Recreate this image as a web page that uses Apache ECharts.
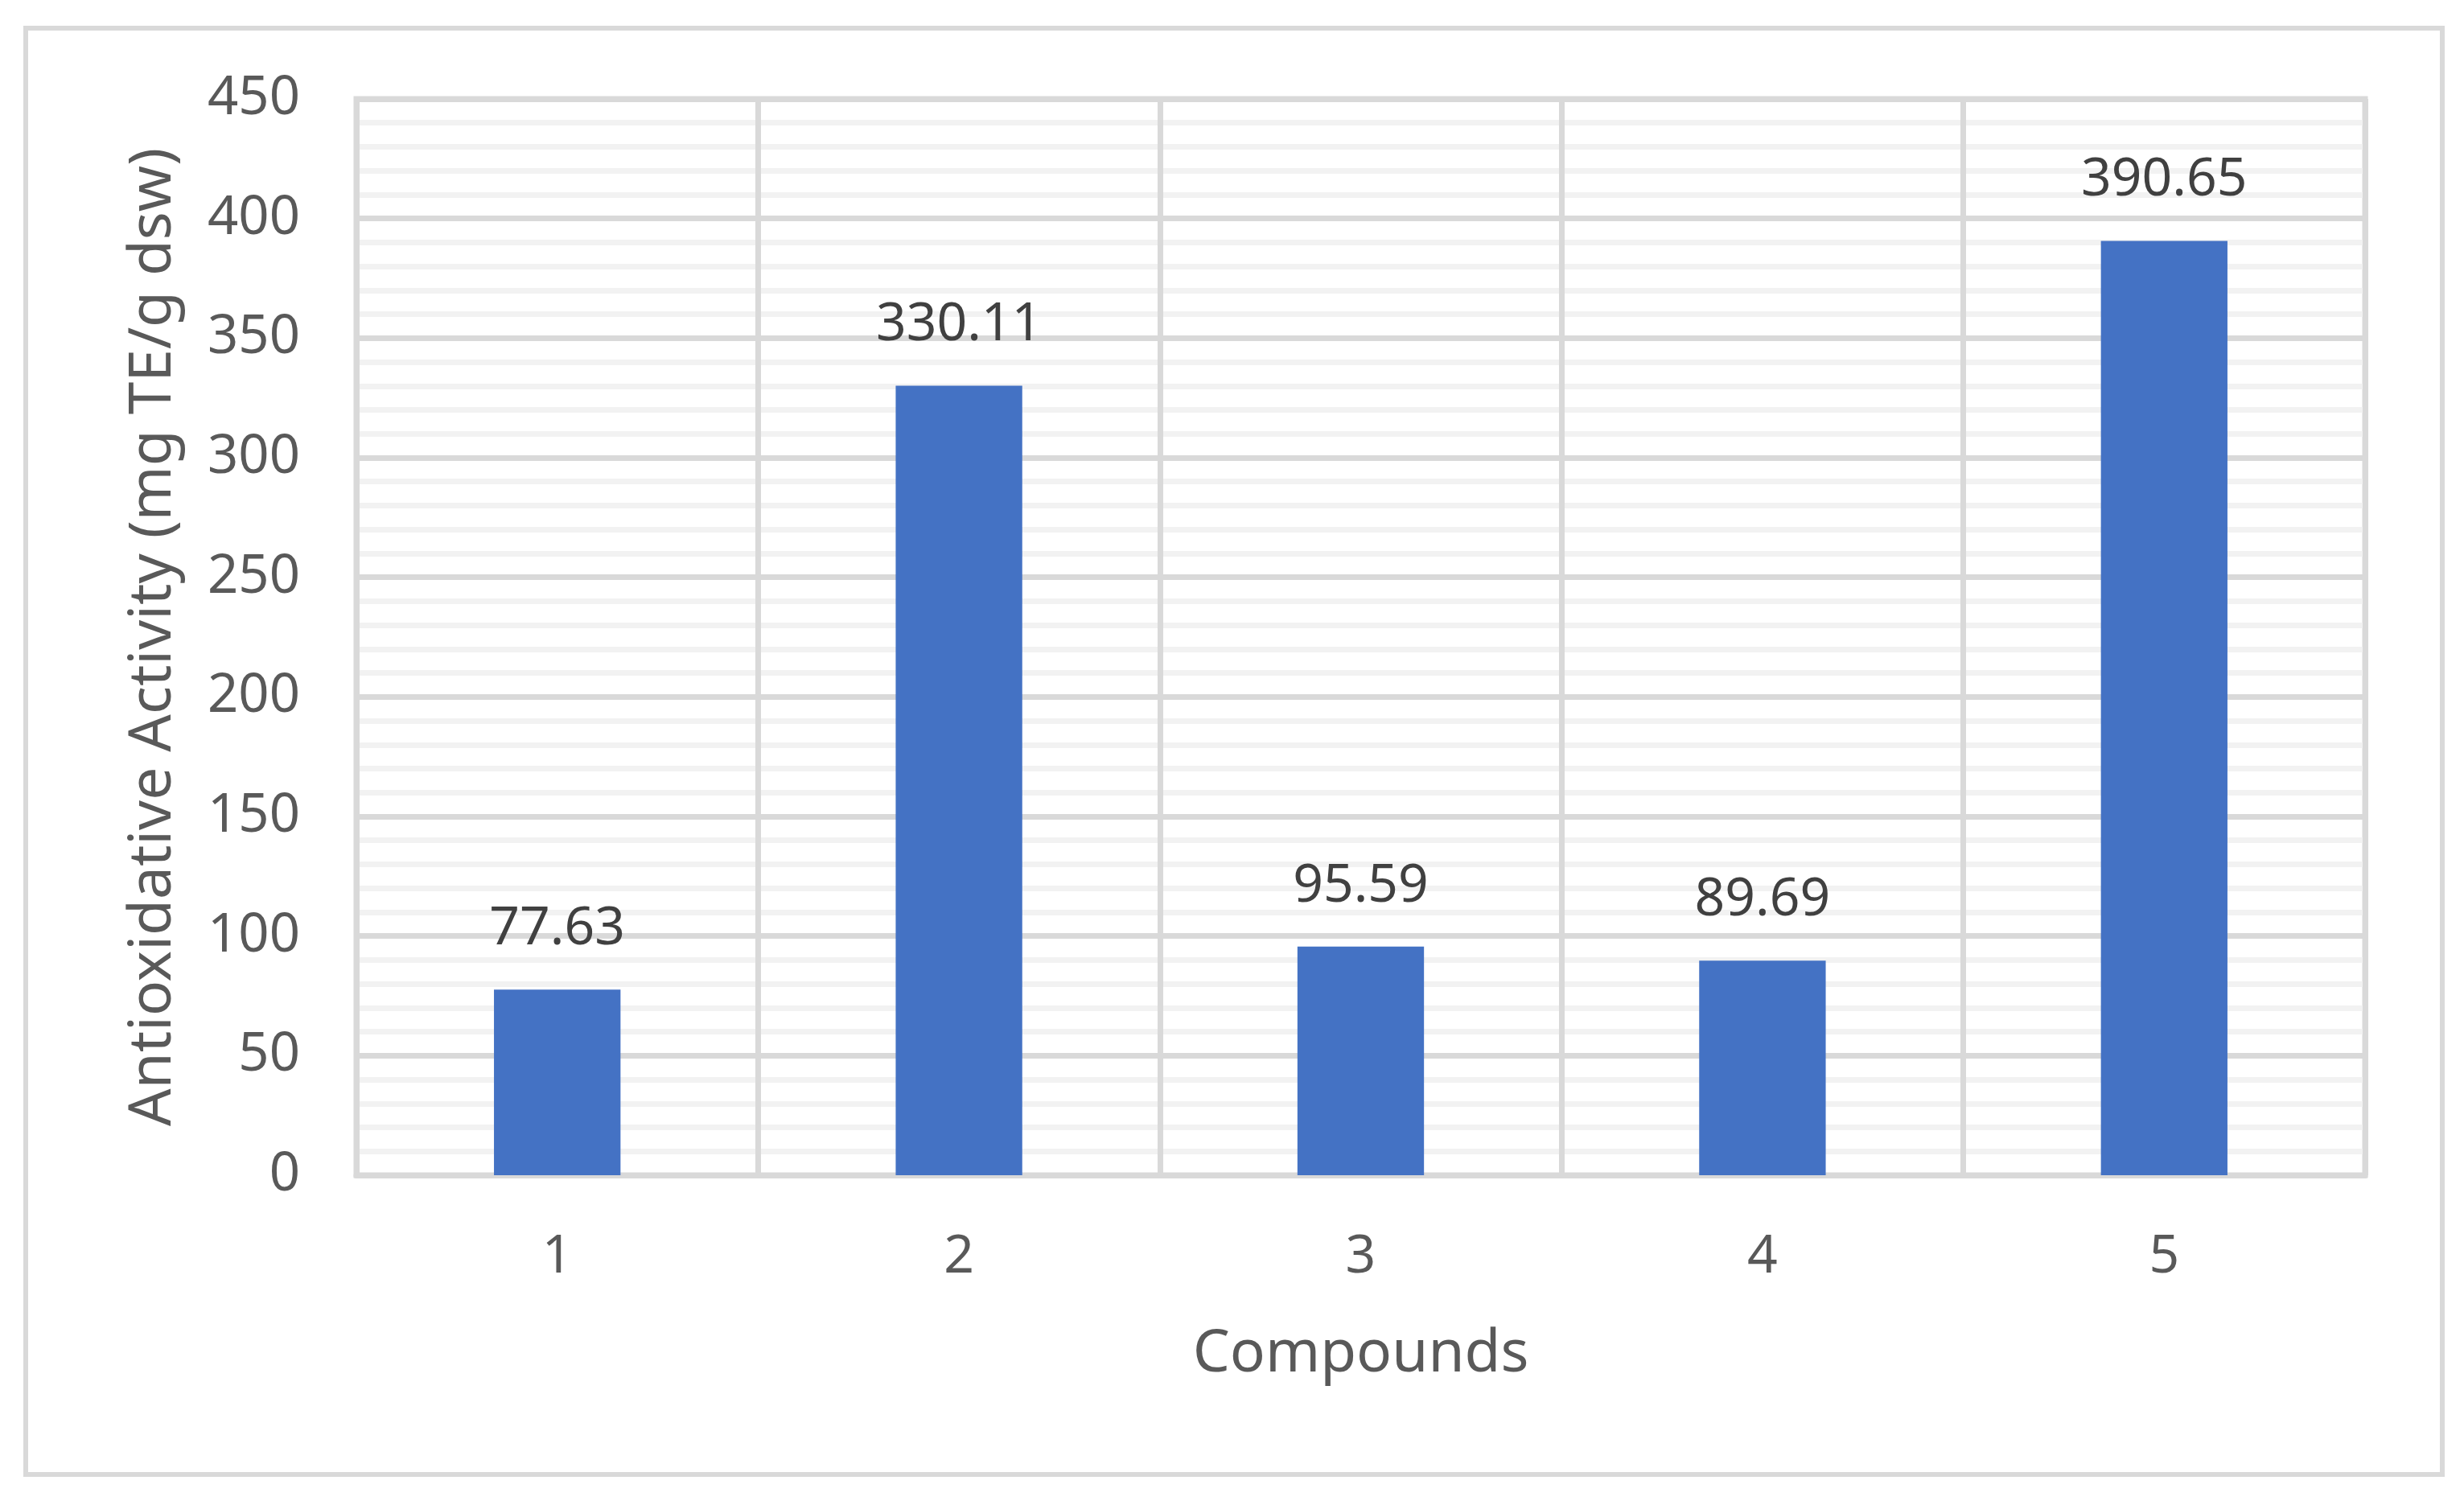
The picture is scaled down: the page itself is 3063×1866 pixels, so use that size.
<!DOCTYPE html>
<html>
<head>
<meta charset="utf-8">
<title>Antioxidative Activity</title>
<script src="https://cdn.jsdelivr.net/npm/echarts@6/dist/echarts.min.js"></script>
<style>
  html, body { margin: 0; padding: 0; background: #fff; }
  #chart { width: 3063px; height: 1866px; }
</style>
</head>
<body>
<div id="chart"></div>
<script>
// data
const compounds = ['1', '2', '3', '4', '5']
const activity = [77.63, 330.11, 95.59, 89.69, 390.65]
const yTicks = [0, 450, 50] // min, max, step

const FONT = '"Noto Sans", "Open Sans", sans-serif'
const GRID_MAJOR = '#d9d9d9'
const GRID_MINOR = '#f2f2f2'

const chart = echarts.init(document.getElementById('chart'), null, { renderer: 'canvas' })

const option = {
  backgroundColor: '#fff',
  animation: false,
  textStyle: { fontFamily: FONT },
  graphic: [{
    // outer chart frame
    type: 'rect',
    left: 29,
    top: 32,
    shape: { width: 3004, height: 1798 },
    style: { fill: 'none', stroke: GRID_MAJOR, lineWidth: 6 },
    z: -1
  }],
  grid: {
    left: 443,
    right: 123,
    top: 123,
    bottom: 405,
    show: true,
    borderColor: GRID_MAJOR,
    borderWidth: 7
  },
  xAxis: {
    type: 'category',
    data: compounds,
    name: 'Compounds',
    nameLocation: 'middle',
    nameGap: 187,
    nameTextStyle: { fontSize: 73, color: '#595959', fontFamily: FONT },
    axisLine: { show: true, lineStyle: { color: GRID_MAJOR, width: 7 } },
    axisTick: { show: false },
    axisLabel: { fontSize: 66, color: '#595959', margin: 69, fontFamily: FONT },
    splitLine: { show: true, lineStyle: { color: GRID_MAJOR, width: 7 } }
  },
  yAxis: {
    type: 'value',
    min: yTicks[0],
    max: yTicks[1],
    interval: yTicks[2],
    name: 'Antioxidative Activity (mg TE/g dsw)',
    nameLocation: 'middle',
    nameGap: 215,
    nameTextStyle: { fontSize: 73, color: '#595959', fontFamily: FONT },
    axisLine: { show: false },
    axisTick: { show: false },
    axisLabel: { fontSize: 67, color: '#595959', margin: 70, fontFamily: FONT },
    splitLine: { show: true, lineStyle: { color: GRID_MAJOR, width: 7 } },
    minorTick: { show: false, splitNumber: 5 },
    minorSplitLine: { show: true, lineStyle: { color: GRID_MINOR, width: 7 } }
  },
  series: [{
    type: 'bar',
    data: activity,
    barWidth: '31.5%',
    itemStyle: { color: '#4472c4' },
    label: {
      show: true,
      position: 'top',
      distance: 42,
      fontSize: 66,
      color: '#404040',
      fontFamily: FONT,
      formatter: p => p.value.toFixed(2)
    },
    z: 3
  }]
}

chart.setOption(option)
</script>
</body>
</html>
